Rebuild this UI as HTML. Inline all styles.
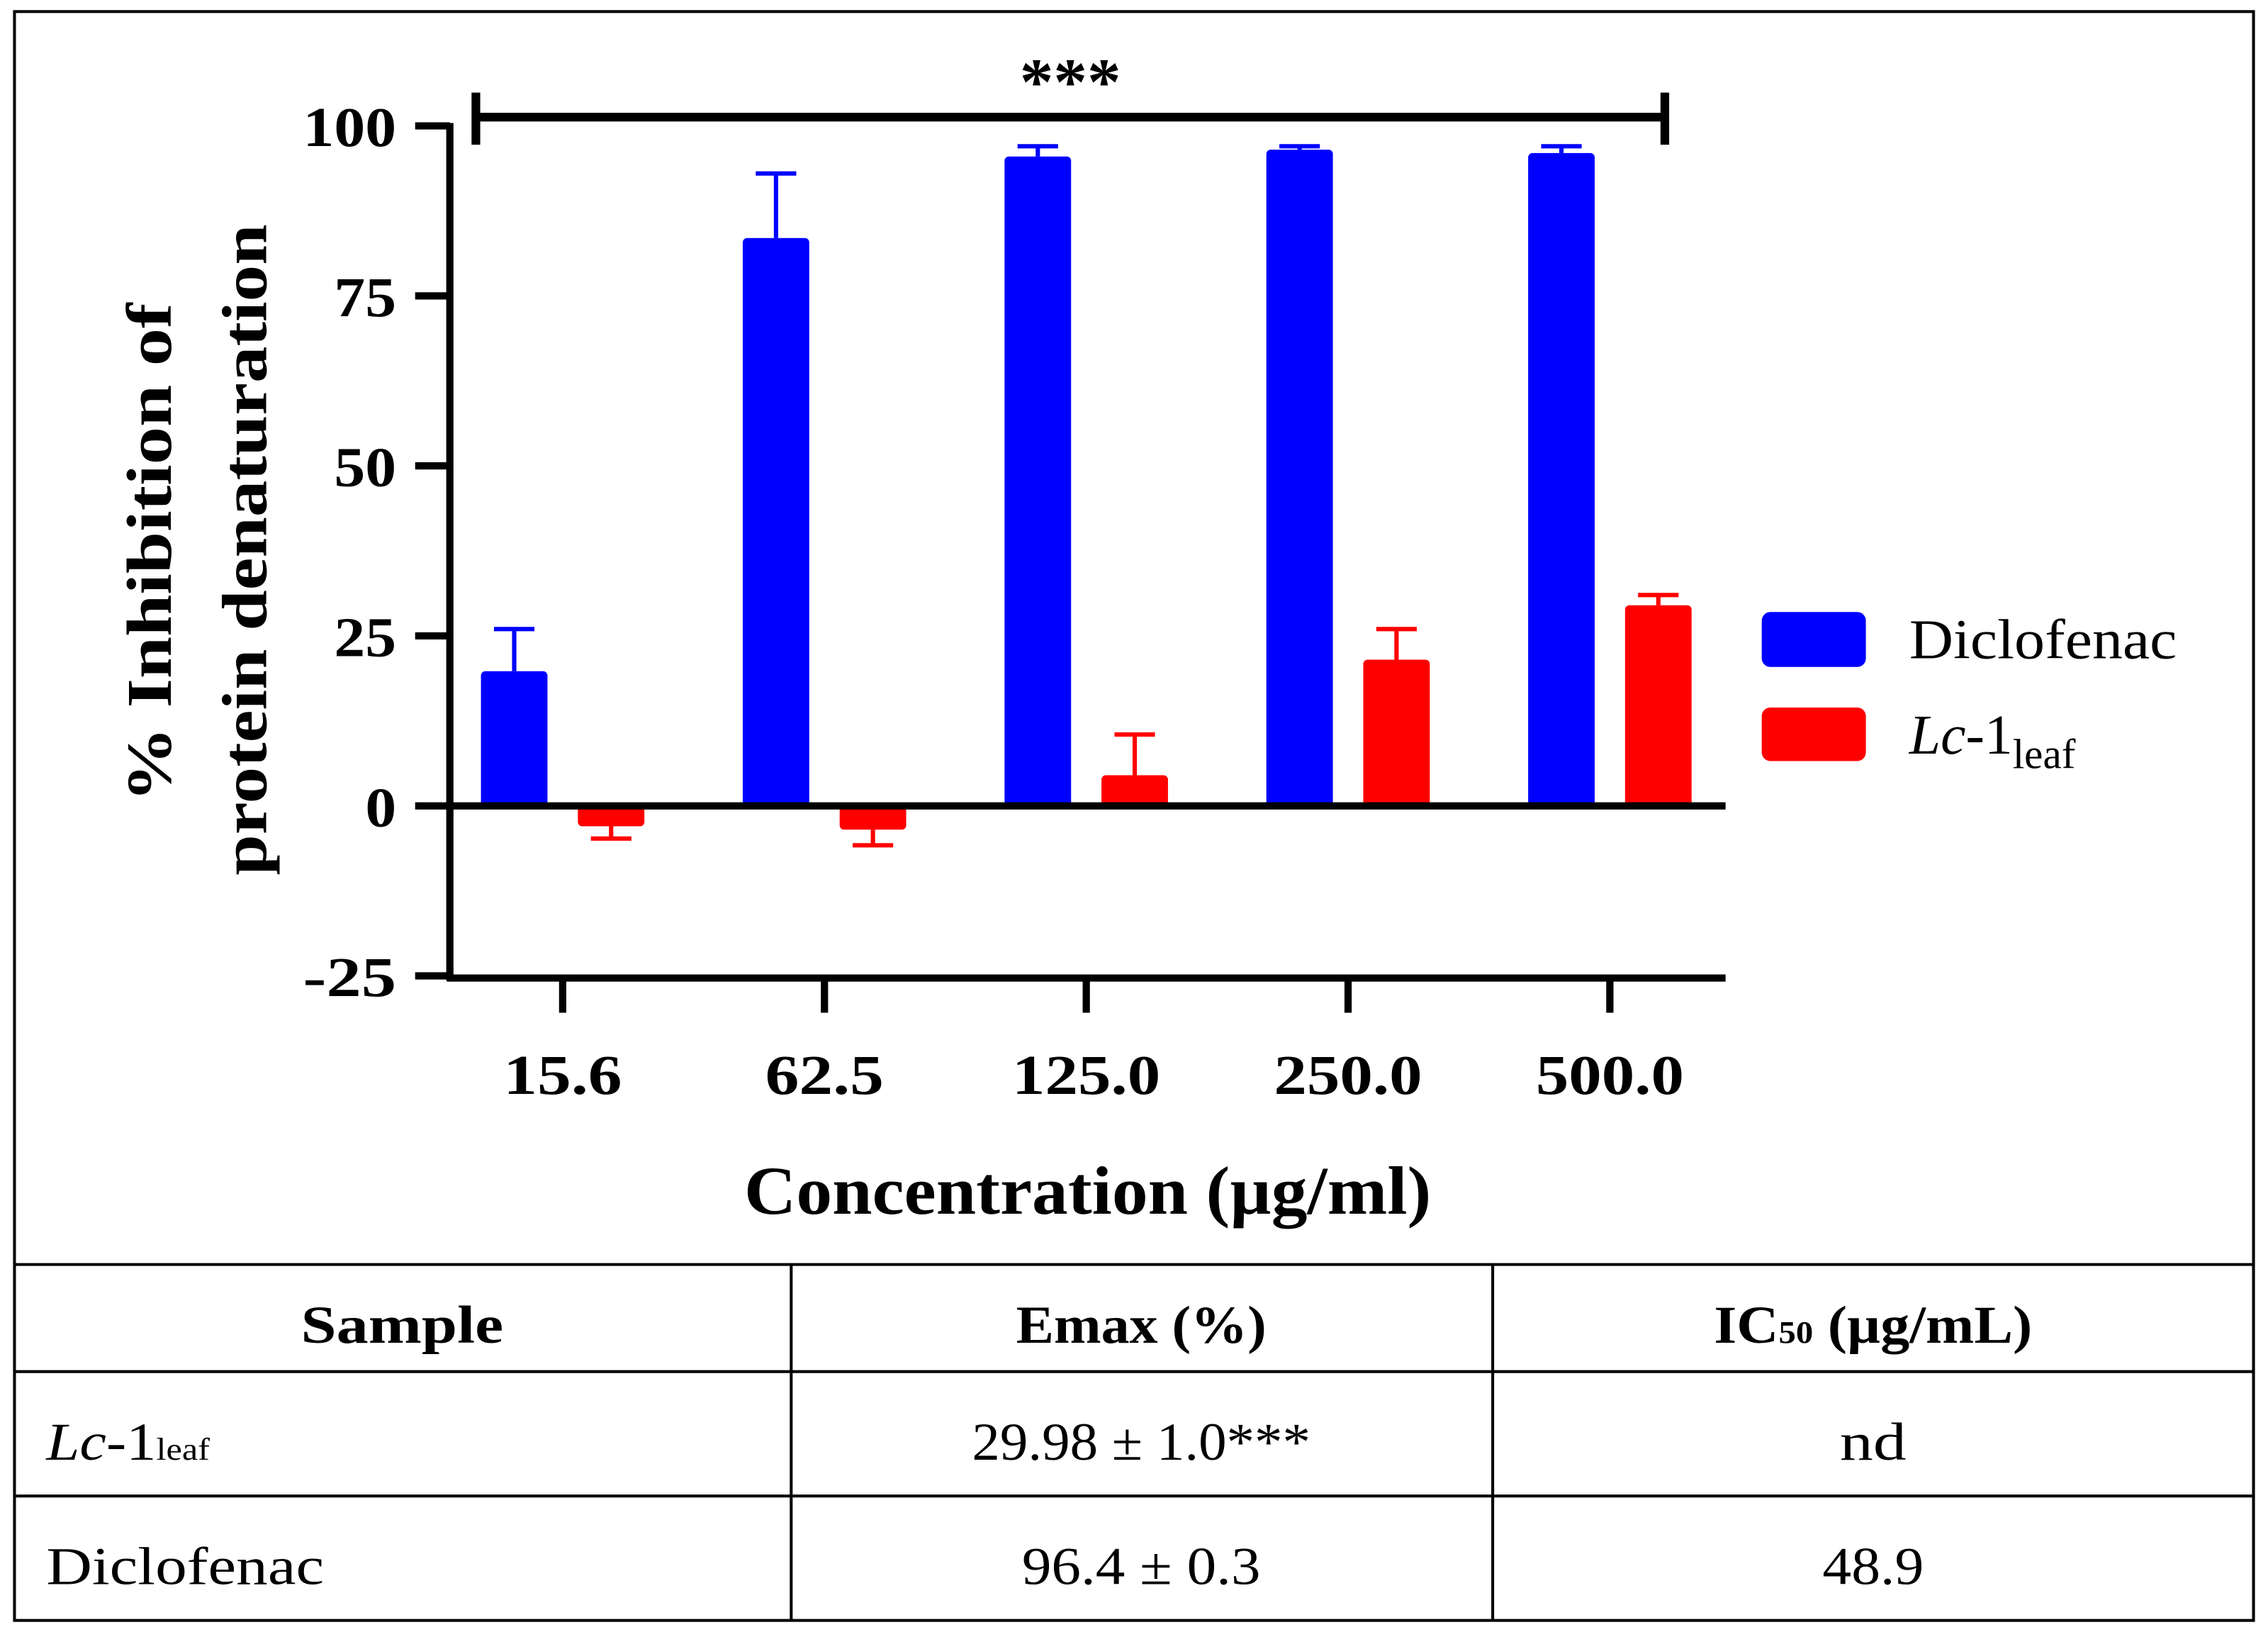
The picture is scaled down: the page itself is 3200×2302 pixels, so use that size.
<!DOCTYPE html>
<html><head><meta charset="utf-8"><style>
html,body{margin:0;padding:0;background:#fff}
svg{display:block}
text{font-family:"Liberation Serif","DejaVu Serif",serif}
</style></head><body>
<svg id="chart" width="3200" height="2302" viewBox="0 0 1568 1128" xmlns="http://www.w3.org/2000/svg">
<rect x="10" y="8" width="1548" height="1112" fill="#fff" stroke="#000" stroke-width="2"/>
<g id="plot"></g>
<g id="table">
<line x1="10" y1="874" x2="1558" y2="874" stroke="#000" stroke-width="2"/>
<line x1="10" y1="948" x2="1558" y2="948" stroke="#000" stroke-width="2"/>
<line x1="10" y1="1034" x2="1558" y2="1034" stroke="#000" stroke-width="2"/>
<line x1="547" y1="874" x2="547" y2="1120" stroke="#000" stroke-width="2"/>
<line x1="1032" y1="874" x2="1032" y2="1120" stroke="#000" stroke-width="2"/>
<text x="278" y="928" font-size="37" font-weight="bold" text-anchor="middle" textLength="140" lengthAdjust="spacingAndGlyphs">Sample</text>
<text x="789" y="928" font-size="37" font-weight="bold" text-anchor="middle" textLength="173" lengthAdjust="spacingAndGlyphs">Emax (%)</text>
<text x="1295" y="928" font-size="37" font-weight="bold" text-anchor="middle" textLength="220" lengthAdjust="spacingAndGlyphs">IC<tspan font-size="22">50</tspan> (µg/mL)</text>
<text x="32" y="1009" font-size="37" textLength="113" lengthAdjust="spacingAndGlyphs"><tspan font-style="italic">Lc</tspan>-1<tspan font-size="22">leaf</tspan></text>
<text x="789" y="1009" font-size="37" text-anchor="middle" textLength="234" lengthAdjust="spacingAndGlyphs">29.98 ± 1.0***</text>
<text x="1295" y="1009" font-size="37" text-anchor="middle" textLength="46" lengthAdjust="spacingAndGlyphs">nd</text>
<text x="32" y="1095" font-size="37" textLength="192" lengthAdjust="spacingAndGlyphs">Diclofenac</text>
<text x="789" y="1095" font-size="37" text-anchor="middle" textLength="165" lengthAdjust="spacingAndGlyphs">96.4 ± 0.3</text>
<text x="1295" y="1095" font-size="37" text-anchor="middle" textLength="70" lengthAdjust="spacingAndGlyphs">48.9</text>
</g>
</svg>
<script>
const categories = ["15.6","62.5","125.0","250.0","500.0"];
const diclofenacValues = [19.8, 83.5, 95.5, 96.5, 96.0];
const diclofenacErrTop = [26.0, 93.0, 97.0, 97.0, 97.0];
const lcValues = [-3.0, -3.5, 4.5, 21.5, 29.5];
const lcErrEnd = [-4.8, -5.8, 10.5, 26.0, 31.0];
const yTicks = [100, 75, 50, 25, 0, -25];

const NS = "http://www.w3.org/2000/svg";
const g = document.getElementById("plot");
const yS = v => 557 - (v * 470 / 100);
const xS = i => 389 + i * 181;
function mk(tag, attrs, parent) {
  const e = document.createElementNS(NS, tag);
  for (const k in attrs) e.setAttribute(k, attrs[k]);
  (parent || g).appendChild(e);
  return e;
}
function bar(cx, v, err, color, name) {
  const y0 = yS(0), y1 = yS(v);
  const top = Math.min(y0, y1), h = Math.abs(y1 - y0);
  const errY = yS(err);
  const el = mk("line", {x1: cx, x2: cx, y1: y1, y2: errY, stroke: color, "stroke-width": 3});
  
  
  const cap = mk("line", {x1: cx - 14, x2: cx + 14, y1: errY, y2: errY, stroke: color, "stroke-width": 3});
  
  
  const r = mk("rect", {x: cx - 23, y: top, width: 46, height: Math.max(h, 1), fill: color, rx: 3});
  
  
}
categories.forEach((c, i) => {
  bar(xS(i) - 33.5, diclofenacValues[i], diclofenacErrTop[i], "#0000ff", "bar-diclofenac-" + c);
  bar(xS(i) + 33.5, lcValues[i], lcErrEnd[i], "#ff0000", "bar-lc1leaf-" + c);
  const t = mk("line", {x1: xS(i), x2: xS(i), y1: 676, y2: 700, stroke: "#000", "stroke-width": 5});
  
  
  const lb = mk("text", {x: xS(i), y: 756, "font-size": 39, "font-weight": "bold", "text-anchor": "middle", textLength: c.length * 20.5, lengthAdjust: "spacingAndGlyphs"});
  lb.textContent = c;
  
  
});
yTicks.forEach(v => {
  const s = String(v);
  const lb = mk("text", {x: 274, y: yS(v) + 14, "font-size": 39, "font-weight": "bold", "text-anchor": "end", textLength: s.length * 21.5, lengthAdjust: "spacingAndGlyphs"});
  lb.textContent = s;
  
  
  const t = mk("line", {x1: 287, x2: 311, y1: yS(v), y2: yS(v), stroke: "#000", "stroke-width": 5});
  
  
});
const ya = mk("line", {x1: 311, x2: 311, y1: 85, y2: 678, stroke: "#000", "stroke-width": 5});


const xa = mk("line", {x1: 309, x2: 1193, y1: 676, y2: 676, stroke: "#000", "stroke-width": 5});


const zl = mk("line", {x1: 311, x2: 1193, y1: yS(0), y2: yS(0), stroke: "#000", "stroke-width": 5});


const sb = mk("path", {d: "M329 64V100M329 81H1151M1151 64V100", stroke: "#000", "stroke-width": 6, fill: "none"});


const st = mk("text", {x: 740, y: 72, "font-size": 46, "font-weight": "bold", "text-anchor": "middle", textLength: 70, lengthAdjust: "spacingAndGlyphs"});
st.textContent = "***";


const xt = mk("text", {x: 752, y: 839, "font-size": 47, "font-weight": "bold", "text-anchor": "middle", textLength: 475, lengthAdjust: "spacingAndGlyphs"});
xt.textContent = "Concentration (µg/ml)";


const yt = mk("text", {transform: "translate(118 382) rotate(-90)", "font-size": 44, "font-weight": "bold", "text-anchor": "middle", textLength: 345, lengthAdjust: "spacingAndGlyphs"});
yt.textContent = "%  Inhibition of";


const yt2 = mk("text", {transform: "translate(184 380) rotate(-90)", "font-size": 44, "font-weight": "bold", "text-anchor": "middle", textLength: 450, lengthAdjust: "spacingAndGlyphs"});
yt2.textContent = "protein denaturation";


const l1 = mk("rect", {x: 1218, y: 423, width: 72, height: 38, rx: 6, fill: "#0000ff"});


const lt1 = mk("text", {x: 1320, y: 455, "font-size": 39, textLength: 185, lengthAdjust: "spacingAndGlyphs"});
lt1.textContent = "Diclofenac";


const l2 = mk("rect", {x: 1218, y: 489, width: 72, height: 37, rx: 6, fill: "#ff0000"});


const lt2 = mk("text", {x: 1320, y: 521, "font-size": 39});
lt2.innerHTML = '<tspan font-style="italic">Lc</tspan>-1<tspan font-size="29" dy="10">leaf</tspan>';


</script>
</body></html>
